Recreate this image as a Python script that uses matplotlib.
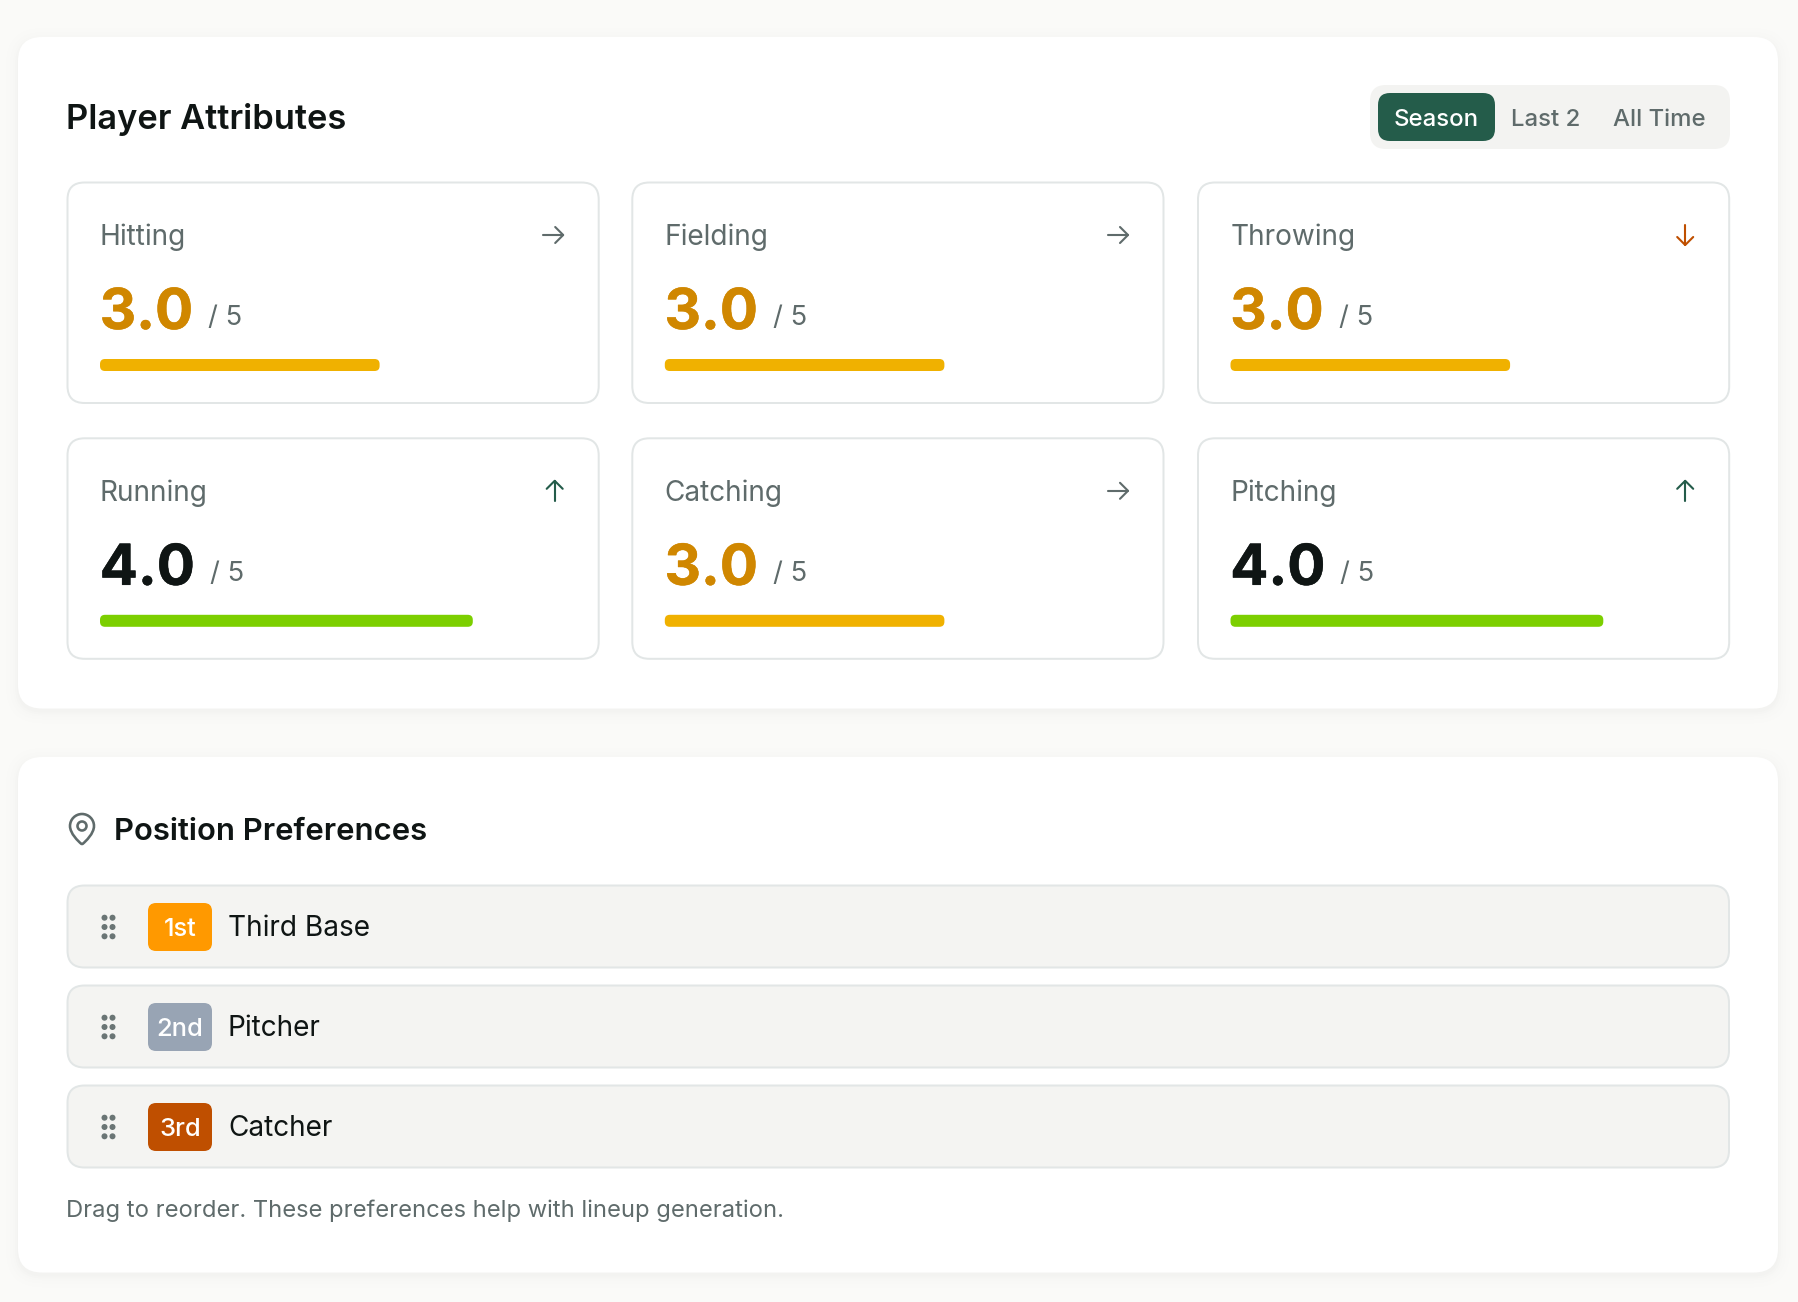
import matplotlib
matplotlib.use("Agg")
import matplotlib.pyplot as plt
from matplotlib.patches import FancyBboxPatch, PathPatch, Circle
from matplotlib.path import Path
import matplotlib.patheffects as pe

W, H = 1798, 1302
plt.rcParams['font.family'] = ['Inter', 'DejaVu Sans']

# ---- data ----
attributes = ["Hitting", "Fielding", "Throwing", "Running", "Catching", "Pitching"]
scores = [3.0, 3.0, 3.0, 4.0, 3.0, 4.0]
max_score = 5
trends = ["flat", "flat", "down", "up", "flat", "up"]
periods = ["Season", "Last 2", "All Time"]
ranks = ["1st", "2nd", "3rd"]
positions = ["Third Base", "Pitcher", "Catcher"]
rank_colors = ["#FF9900", "#98A4B4", "#BF4F00"]
note = "Drag to reorder. These preferences help with lineup generation."

INK = "#0F1514"
GREY = "#5F6B6B"
BORDER = "#E2E6E6"
GREEN = "#245C4A"
trend_colors = {"flat": GREY, "down": "#BF4F00", "up": GREEN}


def score_style(v):
    return ("#D08700", "#F0B100") if v < 4 else (INK, "#7CCF00")


fig = plt.figure(figsize=(W / 100, H / 100), dpi=100, facecolor="#FAFAF8")
ax = fig.add_axes([0, 0, 1, 1])
ax.set_xlim(0, W)
ax.set_ylim(H, 0)
ax.axis("off")


def fs(px):
    return px * 0.72


def rrect(a, x0, y0, x1, y1, r, fc, ec="none", lw=0, z=1, alpha=None):
    # (x0, y0, x1, y1) is the outer edge, the border is drawn inside it
    i = lw / 2
    x0, y0, x1, y1, r = x0 + i, y0 + i, x1 - i, y1 - i, r - i
    p = FancyBboxPatch((x0 + r, y0 + r), x1 - x0 - 2 * r, y1 - y0 - 2 * r,
                       boxstyle=f"round,pad={r},rounding_size={r}",
                       fc=fc, ec=ec, lw=lw * 0.72, zorder=z, alpha=alpha)
    a.add_patch(p)
    return p


def txt(x, y, s, px, color, weight=400, ha="left", z=5, stroke=0):
    t = ax.text(x, y, s, fontsize=fs(px), color=color, ha=ha, va="baseline",
                zorder=z, fontweight=weight)
    if stroke:
        t.set_path_effects([pe.withStroke(linewidth=stroke * 0.72, foreground=color)])
    return t


def panel(x0, y0, x1, y1):
    for g, a in [(12, .003), (8, .004), (5, .005), (3, .006), (1, .007)]:
        rrect(ax, x0 - g, y0 - g + 3, x1 + g, y1 + g + 3, 24 + g, "#000000", z=0.5, alpha=a)
    rrect(ax, x0, y0, x1, y1, 24, "#FFFFFF", z=1)


def arrow(cx, cy, kind, color):
    L, H_ = 10, 8
    if kind == "flat":
        cx -= 0.5
        segs = [[(cx - L, cy), (cx + L, cy)], [(cx + L - H_, cy - H_), (cx + L, cy), (cx + L - H_, cy + H_)]]
    elif kind == "up":
        cx += 1
        segs = [[(cx, cy + L), (cx, cy - L)], [(cx - H_, cy - L + H_), (cx, cy - L), (cx + H_, cy - L + H_)]]
    else:
        cx += 1
        segs = [[(cx, cy - L), (cx, cy + L)], [(cx - H_, cy + L - H_), (cx, cy + L), (cx + H_, cy + L - H_)]]
    for s in segs:
        ax.plot(*zip(*s), color=color, lw=2.1 * 0.72, solid_capstyle="round",
                solid_joinstyle="round", zorder=5)


def pin(ox, oy, k, color):
    pts = [(20, 10), (20, 14.993), (14.461, 20.193), (12.601, 21.799),
           (12.25, 22.05), (11.75, 22.05), (11.399, 21.799),
           (9.539, 20.193), (4, 14.993), (4, 10),
           (4, 5.582), (7.582, 2), (12, 2),
           (16.418, 2), (20, 5.582), (20, 10)]
    codes = [Path.MOVETO] + [Path.CURVE4] * 15
    v = [(ox + k * a, oy + k * b) for a, b in pts]
    ax.add_patch(PathPatch(Path(v, codes), fc="none", ec=color, lw=2.6 * 0.72, zorder=5))
    ax.add_patch(Circle((ox + 12 * k, oy + 10 * k), 3 * k, fc="none", ec=color, lw=2.6 * 0.72, zorder=5))


# ---- panels ----
panel(18, 37, 1778, 708.5)
panel(18, 757, 1778, 1272.5)

# ---- header ----
txt(66.3, 129.5, "Player Attributes", 34.4, INK, 600)
rrect(ax, 1370, 85, 1730, 149, 16, "#F3F3F1", z=2)
rrect(ax, 1378, 93, 1495, 141, 12, GREEN, z=3)
period_x = [1436.5, 1545.5, 1659.5]
for i, (p, x) in enumerate(zip(periods, period_x)):
    txt(x, 126, p, 24, "#FFFFFF" if i == 0 else GREY, 500, ha="center")

# ---- attribute cards ----
card_x = [66.5, 631.3, 1197]
card_y = [181.5, 437.3]
card_w, card_h = 533.2, 222.5
bar_w = 466
for i, (name, val, tr) in enumerate(zip(attributes, scores, trends)):
    x0 = card_x[i % 3]
    y0 = card_y[i // 3]
    rrect(ax, x0, y0, x0 + card_w, y0 + card_h, 18, "#FFFFFF", BORDER, 2, z=2)
    txt(x0 + 33.5, y0 + 63.5, name, 28, GREY)
    arrow(x0 + card_w - 46, y0 + 53.5, tr, trend_colors[tr])
    col, barcol = score_style(val)
    txt(x0 + 33.2, y0 + 147.5, f"{val:.1f}", 56.5, col, 700, stroke=0.5)
    txt(x0 + 142 + (1 if val >= 4 else 0), y0 + 143.5, f"/ {max_score}", 27.5, GREY)
    # progress bar in its own value axes (0..max_score)
    bx = x0 + 33.5
    by = y0 + 177.5
    bax = fig.add_axes([bx / W, 1 - (by + 12) / H, bar_w / W, 12 / H])
    bax.set_xlim(0, max_score)
    bax.set_ylim(0, 12 * max_score / bar_w)
    bax.axis("off")
    u = max_score / bar_w
    r = 5 * u
    h = 12 * u
    bax.add_patch(FancyBboxPatch((r, r), val - 2 * r, h - 2 * r,
                                 boxstyle=f"round,pad={r},rounding_size={r}",
                                 fc=barcol, ec="none", clip_on=False))

# ---- positions ----
pin(64, 811, 1.5, GREY)
txt(114.5, 840.5, "Position Preferences", 31, INK, 600)
row_y = [884.5, 984.5, 1084.5]
for rk, pos, c, y0 in zip(ranks, positions, rank_colors, row_y):
    rrect(ax, 66.5, y0, 1730, y0 + 84, 18, "#F4F4F2", BORDER, 2, z=2)
    for dy in (33.2, 42.5, 51.8):
        for dx in (104.5, 112.5):
            ax.add_patch(Circle((dx, y0 + dy), 3, fc="#6A7575", ec="none", zorder=5))
    rrect(ax, 148, y0 + 18.5, 212, y0 + 66.5, 8, c, z=3)
    txt(180, y0 + 51.5, rk, 25.5, "#FFFFFF", 500, ha="center")
    txt(228, y0 + 52, pos, 28, INK, 400)

txt(66.5, 1217, note, 23.75, GREY)

fig.savefig("out.png", dpi=100, facecolor=fig.get_facecolor())
